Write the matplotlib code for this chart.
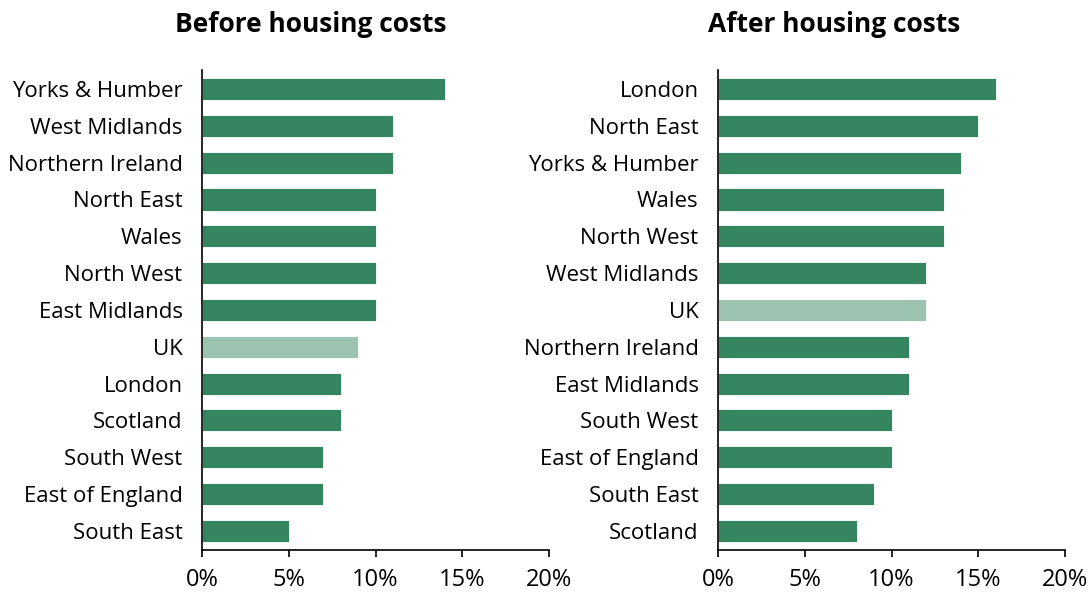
import matplotlib.pyplot as plt
from matplotlib.ticker import PercentFormatter

plt.rcParams['font.family'] = ['Open Sans', 'DejaVu Sans']

dark = '#358660'
light = '#9bc3af'

bhc_regions = ['Yorks & Humber', 'West Midlands', 'Northern Ireland', 'North East', 'Wales',
               'North West', 'East Midlands', 'UK', 'London', 'Scotland', 'South West',
               'East of England', 'South East']
bhc_values = [14, 11, 11, 10, 10, 10, 10, 9, 8, 8, 7, 7, 5]

ahc_regions = ['London', 'North East', 'Yorks & Humber', 'Wales', 'North West', 'West Midlands',
               'UK', 'Northern Ireland', 'East Midlands', 'South West', 'East of England',
               'South East', 'Scotland']
ahc_values = [16, 15, 14, 13, 13, 12, 12, 11, 11, 10, 10, 9, 8]

xticks = [0, 5, 10, 15, 20]

fig = plt.figure(figsize=(10.92, 5.92), dpi=100)
ax1 = fig.add_axes([0.185, 0.071, 0.3178, 0.811])
ax2 = fig.add_axes([0.6575, 0.071, 0.3178, 0.811])

for ax, regions, values in [(ax1, bhc_regions, bhc_values), (ax2, ahc_regions, ahc_values)]:
    colors = [light if r == 'UK' else dark for r in regions]
    ax.barh(range(len(regions)), values, height=0.6, color=colors, edgecolor='white', linewidth=0.6)
    ax.set_yticks(range(len(regions)))
    ax.set_yticklabels(regions, fontsize=16)
    ax.set_ylim(len(regions) - 0.48, -0.52)
    ax.set_xlim(0, 20)
    ax.set_xticks(xticks)
    ax.xaxis.set_major_formatter(PercentFormatter(decimals=0))
    ax.tick_params(axis='x', labelsize=17, length=5, width=1.2, direction='out', pad=8)
    ax.tick_params(axis='y', length=0, pad=14)
    for s in ['top', 'right']:
        ax.spines[s].set_visible(False)
    ax.spines['left'].set_linewidth(1.2)
    ax.spines['bottom'].set_linewidth(1.2)

fig.text(0.285, 0.958, 'Before housing costs', ha='center', va='center', fontsize=19, fontweight='bold')
fig.text(0.764, 0.958, 'After housing costs', ha='center', va='center', fontsize=19, fontweight='bold')

fig.savefig('out.png', dpi=100)
